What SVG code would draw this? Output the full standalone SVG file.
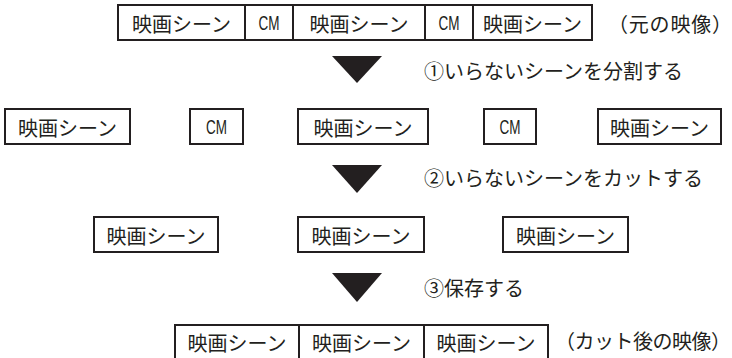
<svg xmlns="http://www.w3.org/2000/svg" width="732" height="358" viewBox="0 0 732 358">
<style>
.box{fill:#fff;stroke:#231f20;stroke-width:2}
.div{stroke:#231f20;stroke-width:2}
.jp{font-family:"Noto Sans CJK JP","Noto Sans CJK SC",sans-serif;fill:#231f20;dominant-baseline:central}
.lbl{font-size:20px;text-anchor:middle}
.cm{font-family:"Liberation Sans",Arial,sans-serif;font-size:20px;fill:#231f20;text-anchor:middle;dominant-baseline:central}
.step{font-size:20px}
.tri{fill:#231f20}
</style>
<g id="original">
<rect class="box" x="118" y="5" width="474" height="35"/>
<line class="div" x1="245" y1="5" x2="245" y2="40"/>
<line class="div" x1="293" y1="5" x2="293" y2="40"/>
<line class="div" x1="425" y1="5" x2="425" y2="40"/>
<line class="div" x1="473" y1="5" x2="473" y2="40"/>
<text class="jp lbl" x="181.5" y="23">映画シーン</text>
<text class="cm" x="269" y="23" textLength="21" lengthAdjust="spacingAndGlyphs">CM</text>
<text class="jp lbl" x="359" y="23">映画シーン</text>
<text class="cm" x="449" y="23" textLength="21" lengthAdjust="spacingAndGlyphs">CM</text>
<text class="jp lbl" x="532.5" y="23">映画シーン</text>
<text class="jp step" x="608" y="23" textLength="124">（元の映像）</text>
</g>
<g id="step1">
<text class="jp step" x="424" y="70">①いらないシーンを分割する</text>
</g>
<g id="split1"><rect class="box" x="5" y="109" width="125" height="35"/><text class="jp lbl" x="67.5" y="127">映画シーン</text></g>
<g id="split2"><rect class="box" x="190" y="109" width="53" height="35"/><text class="cm" x="216.5" y="127" textLength="21" lengthAdjust="spacingAndGlyphs">CM</text></g>
<g id="split3"><rect class="box" x="298" y="109" width="130" height="35"/><text class="jp lbl" x="363" y="127">映画シーン</text></g>
<g id="split4"><rect class="box" x="484" y="109" width="52" height="35"/><text class="cm" x="510" y="127" textLength="21" lengthAdjust="spacingAndGlyphs">CM</text></g>
<g id="split5"><rect class="box" x="598" y="109" width="123" height="35"/><text class="jp lbl" x="659.5" y="127">映画シーン</text></g>
<g id="step2">
<text class="jp step" x="424" y="177">②いらないシーンをカットする</text>
</g>
<g id="cut1"><rect class="box" x="94" y="217" width="124" height="35"/><text class="jp lbl" x="156" y="235">映画シーン</text></g>
<g id="cut2"><rect class="box" x="298" y="217" width="126" height="35"/><text class="jp lbl" x="361" y="235">映画シーン</text></g>
<g id="cut3"><rect class="box" x="503" y="217" width="125" height="35"/><text class="jp lbl" x="565.5" y="235">映画シーン</text></g>
<g id="step3">
<text class="jp step" x="424" y="287">③保存する</text>
</g>
<g id="result">
<rect class="box" x="175" y="325" width="373" height="40"/>
<line class="div" x1="299" y1="325" x2="299" y2="358"/>
<line class="div" x1="424" y1="325" x2="424" y2="358"/>
<text class="jp lbl" x="237" y="342">映画シーン</text>
<text class="jp lbl" x="361.5" y="342">映画シーン</text>
<text class="jp lbl" x="486" y="342">映画シーン</text>
<text class="jp step" x="555" y="340" textLength="176">（カット後の映像）</text>
</g>
<g id="connectors">
<polygon class="tri" points="332,56 382,56 357,83"/>
<polygon class="tri" points="332,165 382,165 357,193"/>
<polygon class="tri" points="332,273 382,273 357,302"/>
</g>
</svg>
